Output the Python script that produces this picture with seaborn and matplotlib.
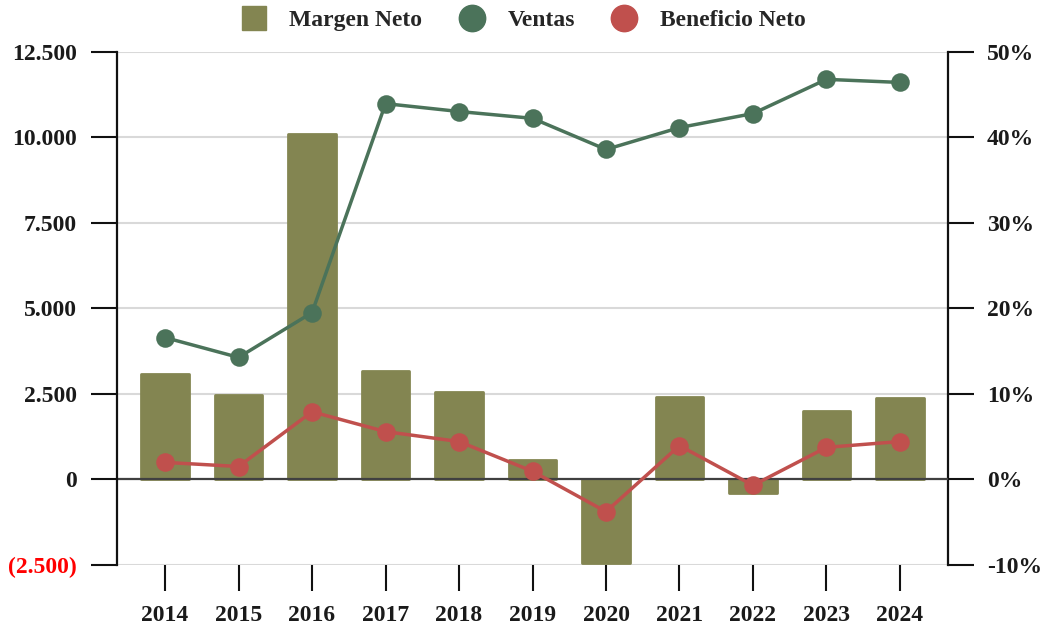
import numpy as np
import pandas as pd
import matplotlib
matplotlib.use("Agg")
import matplotlib.pyplot as plt
import seaborn as sns
from matplotlib.lines import Line2D

# ---------------- data ----------------
years = ["2014", "2015", "2016", "2017", "2018", "2019", "2020", "2021", "2022", "2023", "2024"]
margen_neto = [12.3, 9.9, 40.4, 12.7, 10.2, 2.3, -9.8, 9.7, -1.6, 8.0, 9.5]          # %
ventas = [4150, 3570, 4880, 10990, 10760, 10560, 9650, 10290, 10700, 11700, 11610]
beneficio_neto = [500, 380, 1980, 1400, 1110, 240, -940, 990, -170, 940, 1110]

left_ticks = [-2500, 0, 2500, 5000, 7500, 10000, 12500]
right_ticks = [-10, 0, 10, 20, 30, 40, 50]

# ---------------- style ----------------
sns.set_theme(style="white")
plt.rcParams["font.family"] = ["Liberation Serif", "DejaVu Serif"]

c_bar = "#838551"
c_green = "#4B735A"
c_red = "#C0504D"

df = pd.DataFrame({"year": years, "margen": margen_neto,
                   "ventas": ventas, "beneficio": beneficio_neto})

fig = plt.figure(figsize=(10.42, 6.31), dpi=100)
fig.patch.set_facecolor("white")
ax = fig.add_axes([0.1123, 0.1046, 0.7975, 0.813])
axb = ax.twinx()
ax.set_zorder(axb.get_zorder() + 1)
ax.patch.set_visible(False)

# bars on right axis
sns.barplot(data=df, x="year", y="margen", ax=axb, color=c_bar, saturation=1,
            width=0.65, linewidth=2, edgecolor=c_bar, zorder=2)
for p in axb.patches:
    p.set_joinstyle("round")

# lines on left axis
ax.axhline(0, color="#404040", lw=1.6, zorder=1)
sns.pointplot(data=df, x="year", y="ventas", ax=ax, color=c_green, markers="o",
              markersize=11.5, linewidth=2.5, errorbar=None, zorder=3)
sns.pointplot(data=df, x="year", y="beneficio", ax=ax, color=c_red, markers="o",
              markersize=11.5, linewidth=2.5, errorbar=None, zorder=3)

# axes limits
ax.set_xlim(-0.654, len(years) - 1 + 0.654)
ax.set_ylim(-2500, 12500)
axb.set_ylim(-10, 50)

def fmt_left(v):
    s = f"{abs(v):,.0f}".replace(",", ".")
    return f"({s})" if v < 0 else s

ax.set_yticks(left_ticks, labels=[fmt_left(v) for v in left_ticks])
axb.set_yticks(right_ticks, labels=[f"{v}%" for v in right_ticks])
for t, v in zip(ax.get_yticklabels(), left_ticks):
    t.set_fontweight("bold")
    t.set_color("#FF0000" if v < 0 else "#1A1A1A")
for t in axb.get_yticklabels():
    t.set_fontweight("bold")
    t.set_color("#1A1A1A")
for t in ax.get_xticklabels():
    t.set_fontweight("bold")
    t.set_color("#1A1A1A")

# grid on the back axis
axb.yaxis.grid(True, color="#D9D9D9", lw=1.5)
axb.set_axisbelow(True)
ax.grid(False)
axb.xaxis.grid(False)

# spines
for s in ["top", "right", "bottom"]:
    ax.spines[s].set_visible(False)
for s in ["top", "left", "bottom"]:
    axb.spines[s].set_visible(False)
ax.spines["left"].set_color("#111111")
ax.spines["left"].set_linewidth(1.6)
axb.spines["right"].set_color("#111111")
axb.spines["right"].set_linewidth(1.6)

ax.tick_params(axis="y", left=True, length=19, width=1.5, color="#111111", pad=10, labelsize=17)
axb.tick_params(axis="y", right=True, length=19, width=1.5, color="#111111", pad=9, labelsize=17)
ax.tick_params(axis="x", bottom=True, length=19, width=1.5, color="#111111", pad=10, labelsize=17)
ax.set_xlabel("")
ax.set_ylabel("")
axb.set_ylabel("")
axb.set_xlabel("")

# legend
handles = [
    Line2D([], [], marker="s", color=c_bar, linestyle="none", markersize=17),
    Line2D([], [], marker="o", color=c_green, linestyle="none", markersize=19),
    Line2D([], [], marker="o", color=c_red, linestyle="none", markersize=19),
]
fig.legend(handles, ["Margen Neto", "Ventas", "Beneficio Neto"], loc="upper center",
           bbox_to_anchor=(0.497, 1.018), ncol=3, frameon=False,
           prop={"size": 17, "weight": "bold"}, handletextpad=0.5, columnspacing=1.1)

fig.savefig("out.png", dpi=100, facecolor="white")
